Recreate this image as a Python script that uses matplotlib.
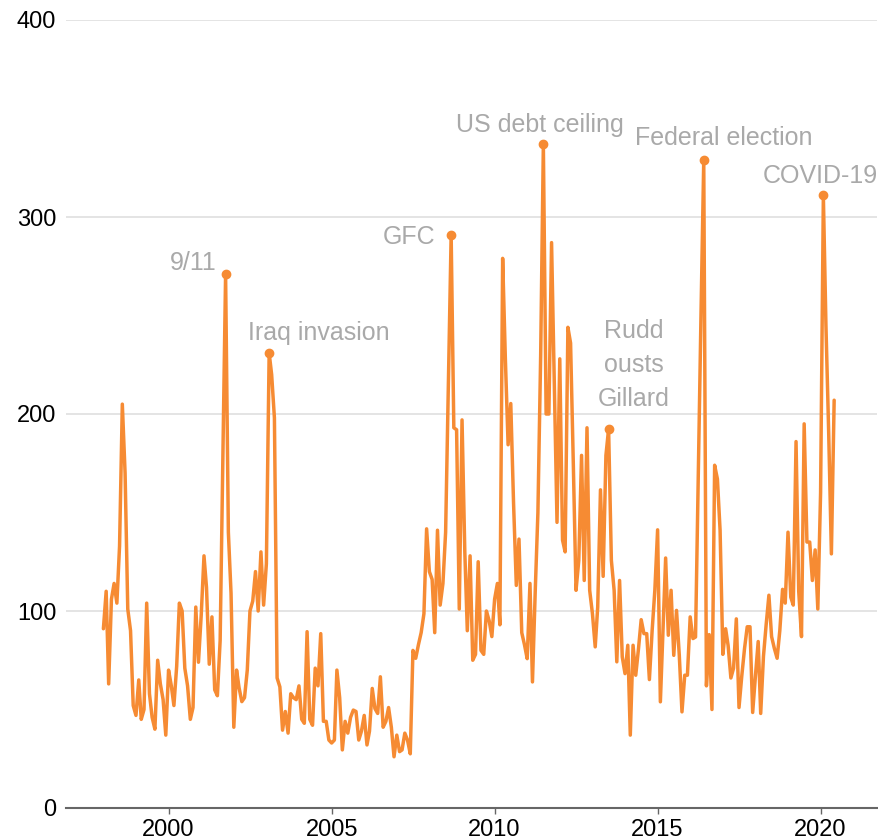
import matplotlib
matplotlib.use("Agg")
import matplotlib.pyplot as plt
import matplotlib.dates as mdates
import numpy as np
import pandas as pd

# monthly uncertainty index, Jan 1998 onwards
epu = [
    91, 110, 63, 106, 114, 104, 133, 205, 170, 101, 90, 52,          # 1998
    47, 65, 45, 50, 104, 58, 46, 40, 75, 63, 55, 37,                 # 1999
    70, 62, 52, 72, 104, 100, 71, 62, 45, 51, 102, 74,               # 2000
    98, 128, 112, 73, 97, 60, 57, 85, 180, 271, 140, 109,            # 2001
    41, 70, 61, 54, 56, 70, 100, 105, 120, 100, 130, 103,            # 2002
    124, 231, 220, 198, 66, 61.5, 39.5, 49, 38, 58, 56, 55,          # 2003
    62, 45, 43, 89.5, 45, 42, 71, 62, 88.5, 44, 44, 34.5,            # 2004
    33, 34.5, 70, 56, 29.5, 44, 38, 46, 49.7, 49, 34.5, 39,          # 2005
    47, 32, 39, 60.7, 50.5, 48, 66.6, 41, 44, 51, 41, 26,            # 2006
    37, 28.6, 29.5, 38, 34.5, 27.5, 80, 76, 83, 89, 98.6, 141.7,     # 2007
    120, 116, 89, 141, 103, 114, 140, 215, 291, 193, 192, 101,       # 2008
    197, 130, 90, 128, 75, 78, 125, 80, 78, 100, 95, 87,             # 2009
    106, 114, 93, 279, 228.6, 184.4, 205.3, 155, 113, 136.5, 89, 83, # 2010
    75.8, 114, 64, 110, 150, 230, 337, 200, 200, 287, 216, 145,      # 2011
    228, 136, 130, 244, 236, 174, 110.5, 125.7, 179, 115.5, 193, 110.5,  # 2012
    98.6, 81.8, 102, 161.5, 117.6, 179, 192.4, 125.7, 110.5, 74.2, 115.5, 76.7,  # 2013
    68.2, 82.6, 37, 82.6, 67.4, 80.9, 95.6, 88.5, 88.5, 65.2, 90.2, 110.5,  # 2014
    141.2, 53.9, 88.5, 126.9, 87.7, 110.5, 77.5, 100.3, 77.5, 48.8, 67.4, 67.4,  # 2015
    97, 86, 86.8, 170, 250, 329, 62, 88, 50, 174, 167, 141,          # 2016
    78, 91, 82.5, 66, 71, 96, 51, 67, 81, 92, 92, 48.5,              # 2017
    67, 84.5, 48, 77, 93, 108, 87, 81, 76, 90, 111, 104,             # 2018
    140, 107, 103, 186, 110, 87, 195, 135, 135, 115.5, 131, 101,     # 2019
    160, 311, 245, 190, 129, 207,                                    # 2020
]
dates = pd.date_range("1998-01-01", periods=len(epu), freq="MS")

event_labels = ["9/11", "Iraq invasion", "GFC", "US debt ceiling",
                "Rudd\nousts\nGillard", "Federal election", "COVID-19"]
event_months = [45, 61, 128, 162, 186, 221, 265]

orange = "#f68b33"
grey_txt = "#a9a9a9"

plt.rcParams["font.family"] = ["Liberation Sans", "DejaVu Sans"]

fig = plt.figure(figsize=(8.79, 8.40), dpi=100)
ax = fig.add_axes([66 / 879, 32 / 840, 811 / 879, 788 / 840])

ax.plot(dates, epu, color=orange, lw=2.5, solid_joinstyle="round",
        solid_capstyle="round", zorder=3)

ev_x = [dates[i] for i in event_months]
ev_y = [epu[i] for i in event_months]
ax.plot(ev_x, ev_y, "o", color=orange, ms=6, zorder=4)

# label placement, pixels from the marker
offsets = [(-9, 11, "right"), (50, 20, "center"), (-16, -2, "right"),
           (-3, 19, "center"), (25, 64, "center"), (20, 22, "center"),
           (-3, 19, "center")]
for lab, x, y, (dx, dy, ha) in zip(event_labels, ev_x, ev_y, offsets):
    ax.annotate(lab, xy=(x, y), xytext=(dx, dy), textcoords="offset pixels",
                ha=ha, va="center", fontsize=18, color=grey_txt,
                linespacing=1.55, zorder=5)

ax.set_ylim(0, 400)
ax.set_yticks([0, 100, 200, 300, 400])
ax.set_xlim(pd.Timestamp("1996-11-08"), pd.Timestamp("2021-09-24"))
ax.xaxis.set_major_locator(mdates.YearLocator(5))
ax.xaxis.set_major_formatter(mdates.DateFormatter("%Y"))

ax.grid(axis="y", color="#dddddd", lw=1.1)
ax.set_axisbelow(True)
for s in ["top", "right", "left"]:
    ax.spines[s].set_visible(False)
ax.spines["bottom"].set_color("#666666")
ax.spines["bottom"].set_linewidth(1.5)
ax.spines["bottom"].set_zorder(6)

ax.tick_params(axis="x", length=4, width=1, color="#666666", pad=4,
               labelsize=17, labelcolor="black")
ax.tick_params(axis="y", length=0, pad=7, labelsize=17, labelcolor="black")

fig.savefig("out.png", dpi=100)
